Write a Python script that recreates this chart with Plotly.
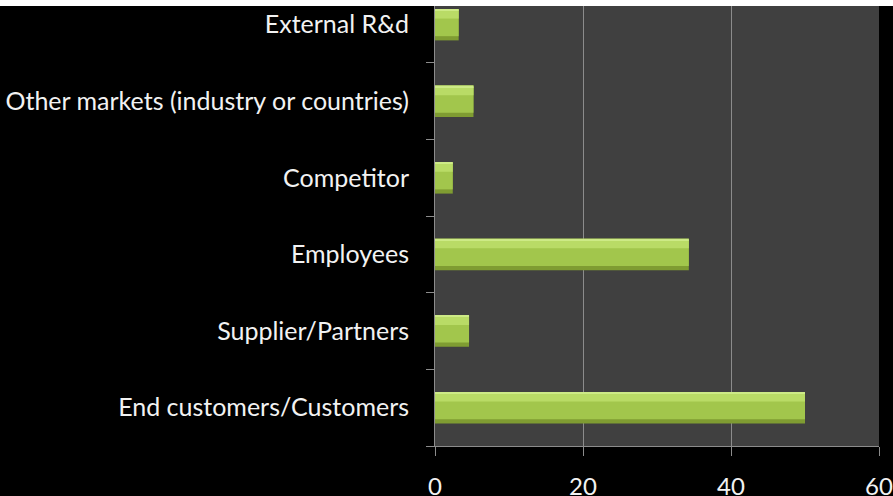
import plotly.graph_objects as go

categories = [
    "End customers/Customers",
    "Supplier/Partners",
    "Employees",
    "Competitor",
    "Other markets (industry or countries)",
    "External R&d",
]
values = [50, 4.6, 34.3, 2.4, 5.2, 3.2]

x_ticks = [0, 20, 40, 60]

FONT = "Lato"

fig = go.Figure()
# bevelled bar look: dark base, body, light upper band, highlight edge
layers = [
    (0.41, -0.205, "#7f9c32"),
    (0.355, -0.15, "#a2c64c"),
    (0.11, 0.08, "#b9db66"),
    (0.02, 0.185, "#cdea86"),
]
for w, off, col in layers:
    fig.add_trace(go.Bar(x=values, y=categories, orientation="h", width=w, offset=off,
                         marker=dict(color=col, line=dict(width=0)), showlegend=False,
                         hoverinfo="x+y"))

fig.update_layout(
    width=893, height=496,
    margin=dict(l=435, r=14, t=6, b=50, autoexpand=False),
    paper_bgcolor="black",
    plot_bgcolor="#404040",
    barmode="overlay",
    font=dict(family=FONT, color="#f2f2f2", size=25),
    shapes=[dict(type="rect", xref="paper", yref="paper", x0=-1.2, x1=1.2, y0=1, y1=1.05,
                 fillcolor="white", line=dict(width=0), layer="above")],
)
fig.update_xaxes(range=[0, 60], tickvals=x_ticks, showgrid=True, gridcolor="#8c8c8c", gridwidth=1,
                 showline=True, linecolor="#8c8c8c", ticks="outside", ticklen=9, tickcolor="#8c8c8c",
                 zeroline=False, ticklabelstandoff=10, automargin=False, ticklabeloverflow="allow",
                 tickfont=dict(size=24))
fig.update_yaxes(type="category", range=[-0.5, 5.244], tickson="boundaries", showgrid=False,
                 showline=True, linecolor="#8c8c8c", ticks="outside", ticklen=8, tickcolor="#8c8c8c",
                 ticklabelstandoff=20, automargin=False)

fig.write_html("out.html", config={"displayModeBar": False},
               post_script="document.body.style.margin='0px';")
